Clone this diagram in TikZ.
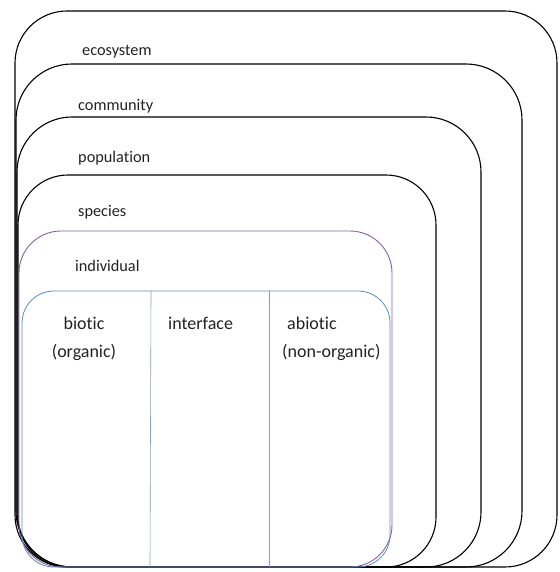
\documentclass[tikz,border=0pt]{standalone}
\usepackage{fontspec}
\setmainfont{Carlito}[Ligatures=NoCommon]
\usepackage{xcolor}
\usetikzlibrary{positioning,calc}

\definecolor{indivpurple}{HTML}{8462A4}
\definecolor{innerblue}{HTML}{5E8BAE}
\definecolor{labelgray}{HTML}{222222}

\begin{document}
\begin{tikzpicture}[x=1pt, y=-1pt]
    \tikzstyle{level} = [draw=black, line width=1.1pt]
    \tikzstyle{levellabel} = [anchor=base west, inner sep=0pt, text=labelgray, font=\fontsize{16.3}{19}\selectfont]
    \tikzstyle{partlabel} = [anchor=base, inner sep=0pt, text=labelgray, font=\fontsize{18}{28}\selectfont]
    \tikzstyle{divider} = [draw=innerblue!80, line width=0.6pt]

    \useasboundingbox (0,0) rectangle (559,572);

    % Nested levels
    \draw [level, rounded corners=52pt] (15,11) rectangle (557,567);
    \draw [level, rounded corners=56pt] (16,64) rectangle (522,567);
    \draw [level, rounded corners=55pt] (17,117) rectangle (481,567);
    \draw [level, rounded corners=50pt] (18,175) rectangle (436,567);
    \draw [level, draw=indivpurple, line width=0.9pt, rounded corners=42pt] (19,231) rectangle (392,567);
    \draw [level, draw=innerblue, line width=0.8pt, rounded corners=32pt] (22,291) rectangle (390,567);

    % Dividers
    \coordinate (divAtop) at (151,291);
    \coordinate (divAbot) at (150,567);
    \coordinate (divBtop) at (269,291);
    \coordinate (divBbot) at (269,567);
    \draw [divider] (divAtop) -- (divAbot);
    \draw [divider] (divBtop) -- (divBbot);

    % Level labels
    \node [levellabel] (ecosystem) at (82,56) {ecosystem};
    \node [levellabel] (community) at (78,111) {community};
    \node [levellabel] (population) at (78,162) {population};
    \node [levellabel] (species) at (78,216) {species};
    \node [levellabel] (individual) at (75,271) {individual};

    % Part labels
    \node [partlabel, align=center] (biotic) at (84,357) {biotic\\(organic)};
    \node [partlabel, anchor=base west] (interface) at (168,329) {interface};
    \node [partlabel, anchor=base west, align=left] (abiotic) at (282,357) {\hspace{5pt}abiotic\\(non-organic)};
\end{tikzpicture}
\end{document}
